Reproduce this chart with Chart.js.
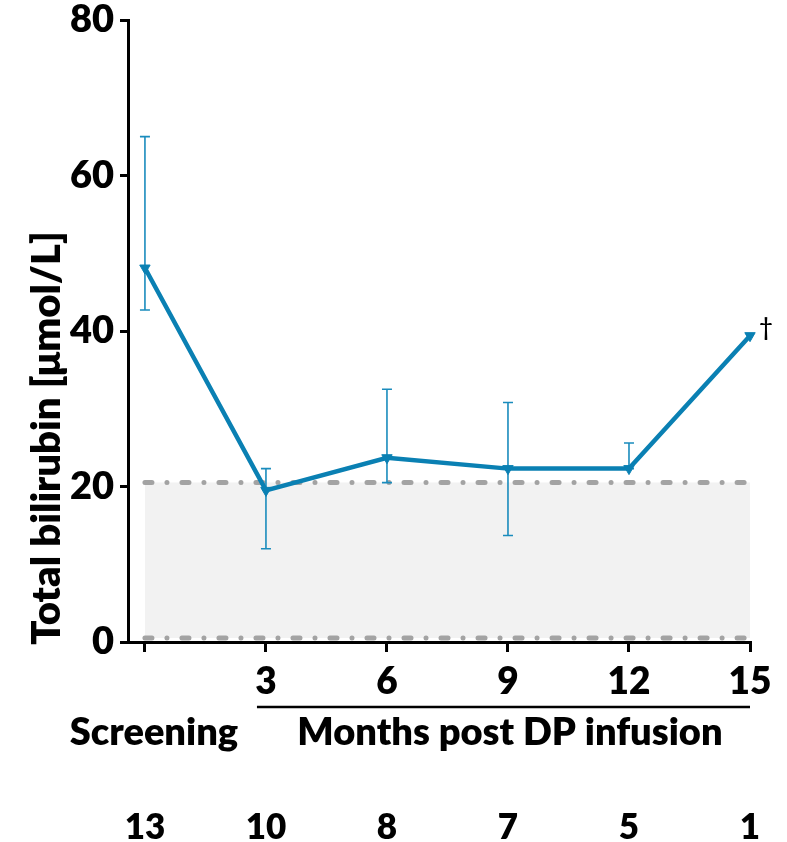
<!DOCTYPE html>
<html>
<head>
<meta charset="utf-8">
<script src="https://cdn.jsdelivr.net/npm/chart.js@4.4.1/dist/chart.umd.min.js"></script>
<style>
html,body{margin:0;padding:0;background:#fff;}
#wrap{width:787px;height:842px;position:relative;}
</style>
</head>
<body>
<div id="wrap"><canvas id="c" width="787" height="842"></canvas></div>
<script>
// ---- data ----
const months = [0, 3, 6, 9, 12, 15];
const xTickLabels = ['', '3', '6', '9', '12', '15'];
const bilirubin = [48.1, 19.5, 23.7, 22.3, 22.3, 39.4];
const errHigh = [65.0, 22.3, 32.5, 30.8, 25.6, null];
const errLow = [42.7, 12.0, 20.5, 13.7, 22.3, null];
const nPatients = ['13', '10', '8', '7', '5', '1'];
const refRangeX = [0, 15];
const refUpper = [20.5, 20.5];
const refLower = [0.5, 0.5];
const yTicks = [0, 20, 40, 60, 80];

const FONT = 'Lato, "Open Sans", sans-serif';
const W = '800';
const BLUE = '#0a80b3';
const GREY = '#a3a3a3';

const errorBars = {
  id: 'errorBars',
  beforeDatasetDraw(chart, args) {
    if (args.index !== 0) return;
    const ctx = chart.ctx, xs = chart.scales.x, ys = chart.scales.y;
    ctx.save();
    ctx.strokeStyle = '#1a8cbd';
    ctx.lineWidth = 1.6;
    months.forEach((m, i) => {
      if (errHigh[i] == null) return;
      const x = xs.getPixelForValue(m);
      const yh = ys.getPixelForValue(errHigh[i]);
      const yl = ys.getPixelForValue(errLow[i]);
      ctx.beginPath();
      ctx.moveTo(x, yh); ctx.lineTo(x, yl);
      ctx.moveTo(x - 5, yh); ctx.lineTo(x + 5, yh);
      ctx.moveTo(x - 5, yl); ctx.lineTo(x + 5, yl);
      ctx.stroke();
    });
    ctx.restore();
  }
};

const annotations = {
  id: 'annotations',
  afterDraw(chart) {
    const ctx = chart.ctx, xs = chart.scales.x, ys = chart.scales.y;
    ctx.save();
    // dagger
    const last = months.length - 1;
    ctx.fillStyle = '#000';
    ctx.font = '600 24px ' + FONT;
    ctx.textAlign = 'left';
    ctx.textBaseline = 'middle';
    ctx.fillText('\u2020', xs.getPixelForValue(months[last]) + 9, ys.getPixelForValue(bilirubin[last]) - 7);
    // bracket line under month ticks
    ctx.strokeStyle = '#000';
    ctx.lineWidth = 2.5;
    ctx.beginPath();
    ctx.moveTo(xs.getPixelForValue(3) - 9, 707);
    ctx.lineTo(xs.getPixelForValue(15), 707);
    ctx.stroke();
    ctx.font = W + ' 38px ' + FONT;
    ctx.textAlign = 'center';
    ctx.textBaseline = 'alphabetic';
    ctx.fillText('Months post DP infusion', (xs.getPixelForValue(3) + xs.getPixelForValue(15)) / 2 + 2, 745);
    ctx.fillText('Screening', xs.getPixelForValue(0) + 9, 745);
    // numbers of patients
    ctx.font = W + ' 35px ' + FONT;
    months.forEach((m, i) => {
      ctx.fillText(nPatients[i], xs.getPixelForValue(m), 839);
    });
    // y title
    ctx.translate(47, 438);
    ctx.rotate(-Math.PI / 2);
    ctx.font = W + ' 40px ' + FONT;
    ctx.textBaseline = 'middle';
    ctx.fillText('Total bilirubin [\u03bcmol/L]', 0, 0);
    ctx.restore();
  }
};

new Chart(document.getElementById('c'), {
  type: 'line',
  data: {
    datasets: [
      {
        data: months.map((m, i) => ({ x: m, y: bilirubin[i] })),
        borderColor: BLUE,
        backgroundColor: BLUE,
        borderWidth: 4.5,
        pointStyle: 'triangle',
        rotation: 180,
        pointRadius: 6,
        pointBorderWidth: 1,
        fill: false,
        tension: 0,
        clip: false,
        order: 0
      },
      {
        data: refRangeX.map((x, i) => ({ x, y: refUpper[i] })),
        borderColor: GREY,
        borderWidth: 5,
        borderCapStyle: 'round',
        borderDash: [7, 15, 0.01, 15],
        backgroundColor: '#f2f2f2',
        fill: '+1',
        pointRadius: 0,
        clip: false,
        order: 1
      },
      {
        data: refRangeX.map((x, i) => ({ x, y: refLower[i] })),
        borderColor: GREY,
        borderWidth: 5,
        borderCapStyle: 'round',
        borderDash: [7, 15, 0.01, 15],
        fill: false,
        pointRadius: 0,
        clip: false,
        order: 2
      }
    ]
  },
  plugins: [errorBars, annotations],
  options: {
    responsive: false,
    animation: false,
    layout: { padding: { top: 20, right: 37, left: 0, bottom: 0 } },
    plugins: {
      legend: { display: false },
      tooltip: { enabled: false },
      filler: { drawTime: 'beforeDatasetsDraw' }
    },
    scales: {
      x: {
        type: 'linear',
        min: -0.42,
        max: 15,
        afterFit(s) { s.height = 200; s.paddingLeft = 0; s.paddingRight = 0; },
        afterBuildTicks(s) { s.ticks = months.map(v => ({ value: v })); },
        grid: { drawOnChartArea: false, drawTicks: true, tickLength: 10, color: '#000', lineWidth: 3 },
        border: { display: true, color: '#000', width: 3 },
        ticks: {
          color: '#000',
          font: { family: FONT, size: 37, weight: W },
          padding: 8,
          maxRotation: 0,
          autoSkip: false,
          callback(v) { const i = months.indexOf(v); return i >= 0 ? xTickLabels[i] : ''; }
        }
      },
      y: {
        min: 0,
        max: 80,
        afterFit(s) { s.width = 128; s.paddingTop = 0; s.paddingBottom = 0; },
        afterBuildTicks(s) { s.ticks = yTicks.map(v => ({ value: v })); },
        grid: { drawOnChartArea: false, drawTicks: true, tickLength: 8, color: '#000', lineWidth: 3 },
        border: { display: true, color: '#000', width: 3 },
        ticks: {
          color: '#000',
          font: { family: FONT, size: 38, weight: W },
          padding: 6
        }
      }
    }
  }
});
</script>
</body>
</html>
